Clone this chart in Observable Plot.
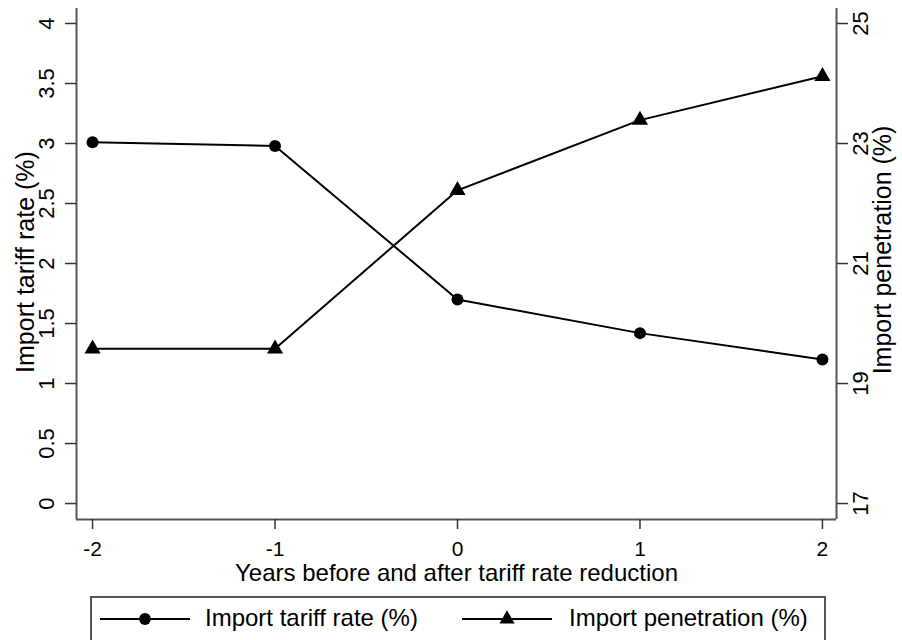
<!DOCTYPE html>
<html><head><meta charset="utf-8">
<script src="https://cdn.jsdelivr.net/npm/d3@7"></script>
<script src="https://cdn.jsdelivr.net/npm/@observablehq/plot@0.6"></script>
<style>
body{margin:0;background:#fff;overflow:hidden;font-family:Arial,"Liberation Sans",sans-serif;color:#000;}
#wrap{position:relative;width:902px;height:640px;overflow:hidden;}
#chart{position:absolute;left:0;top:0;}
#legend{position:absolute;left:90px;top:596px;width:736px;height:70px;border:2px solid #555;box-sizing:border-box;}
#legend .key{position:absolute;top:11px;}
#legend .lab{position:absolute;top:7px;font-size:24px;line-height:26px;white-space:nowrap;}
</style></head>
<body><div id="wrap"><div id="chart"></div><div id="legend"></div></div>
<script>
const years = [-2, -1, 0, 1, 2];
const tariffRate = [3.01, 2.98, 1.70, 1.42, 1.20];
const importPenetration = [19.58, 19.58, 22.22, 23.39, 24.12];
const leftTicks = [0, 0.5, 1, 1.5, 2, 2.5, 3, 3.5, 4];
const rightTicks = [17, 19, 21, 23, 25];
const xTicks = [-2, -1, 0, 1, 2];
const seriesNames = ["Import tariff rate (%)", "Import penetration (%)"];
const xLabel = "Years before and after tariff rate reduction";
const yLabelLeft = "Import tariff rate (%)";
const yLabelRight = "Import penetration (%)";

// right axis (17–25) shares the plot area with left axis (0–4)
const toLeft = v => (v - 17) / 2;
const tariffData = years.map((x, i) => ({x, y: tariffRate[i]}));
const penData = years.map((x, i) => ({x, y: toLeft(importPenetration[i])}));
const xDomain = [-2.088, 2.077];
const yDomain = [-0.133, 4.125];
const font = "Arial, 'Liberation Sans', sans-serif";

const chart = Plot.plot({
  width: 902, height: 596,
  marginLeft: 76, marginRight: 66, marginTop: 8, marginBottom: 77,
  x: {domain: xDomain},
  y: {domain: yDomain},
  style: {fontFamily: font, color: "#000", background: "white", overflow: "visible"},
  marks: [
    Plot.ruleX([xDomain[0]], {stroke: "#555", strokeWidth: 2}),
    Plot.ruleX([xDomain[1]], {stroke: "#555", strokeWidth: 2}),
    Plot.ruleY([yDomain[0]], {stroke: "#555", strokeWidth: 2}),
    Plot.axisX({ticks: xTicks, tickSize: 10, tickPadding: 12, fontSize: 21, label: null,
      tickFormat: d => String(d), stroke: "#333", strokeWidth: 1.5}),
    Plot.axisY({ticks: leftTicks, tickSize: 11, tickFormat: () => "", label: null, stroke: "#333", strokeWidth: 1.5}),
    Plot.axisY({anchor: "right", ticks: rightTicks.map(toLeft), tickSize: 11, tickFormat: () => "", label: null, stroke: "#333", strokeWidth: 1.5}),
    Plot.text(leftTicks, {y: d => d, text: d => String(d), frameAnchor: "left", dx: -30, rotate: -90,
      fontSize: 22, textAnchor: "middle", lineAnchor: "middle", fill: "#000"}),
    Plot.text(rightTicks, {y: d => toLeft(d), text: d => String(d), frameAnchor: "right", dx: 24, rotate: -90,
      fontSize: 22, textAnchor: "middle", lineAnchor: "middle", fill: "#000"}),
    Plot.text([yLabelLeft], {frameAnchor: "left", dx: -51, dy: -2, rotate: -90, fontSize: 25,
      textAnchor: "middle", lineAnchor: "middle", fill: "#000"}),
    Plot.text([yLabelRight], {frameAnchor: "right", dx: 46, dy: -14, rotate: -90, fontSize: 25,
      textAnchor: "middle", lineAnchor: "middle", fill: "#000"}),
    Plot.text([xLabel], {frameAnchor: "bottom", dy: 61, fontSize: 24, textAnchor: "middle", lineAnchor: "bottom", fill: "#000"}),
    Plot.line(tariffData, {x: "x", y: "y", stroke: "#000", strokeWidth: 2}),
    Plot.line(penData, {x: "x", y: "y", stroke: "#000", strokeWidth: 2}),
    Plot.dot(tariffData, {x: "x", y: "y", r: 6, fill: "#000", symbol: "circle"}),
    Plot.dot(penData, {x: "x", y: "y", r: 6, fill: "#000", symbol: "triangle"})
  ]
});
document.getElementById("chart").appendChild(chart);

// legend
const legend = document.getElementById("legend");
const keys = [
  {name: seriesNames[0], sym: "circle", keyLeft: 8, textLeft: 113},
  {name: seriesNames[1], sym: "triangle", keyLeft: 370, textLeft: 477}
];
for (const k of keys) {
  const svg = d3.create("svg").attr("class", "key").attr("width", 90).attr("height", 20)
    .style("left", k.keyLeft + "px");
  svg.append("line").attr("x1", 0).attr("x2", 90).attr("y1", 10).attr("y2", 10)
    .attr("stroke", "#000").attr("stroke-width", 2);
  svg.append("path").attr("transform", "translate(45,10)").attr("fill", "#000")
    .attr("d", d3.symbol(k.sym === "circle" ? d3.symbolCircle : d3.symbolTriangle, k.sym === "circle" ? 110 : 100)());
  legend.appendChild(svg.node());
  const t = document.createElement("div");
  t.className = "lab"; t.style.left = k.textLeft + "px"; t.textContent = k.name;
  legend.appendChild(t);
}
</script>
</body></html>
